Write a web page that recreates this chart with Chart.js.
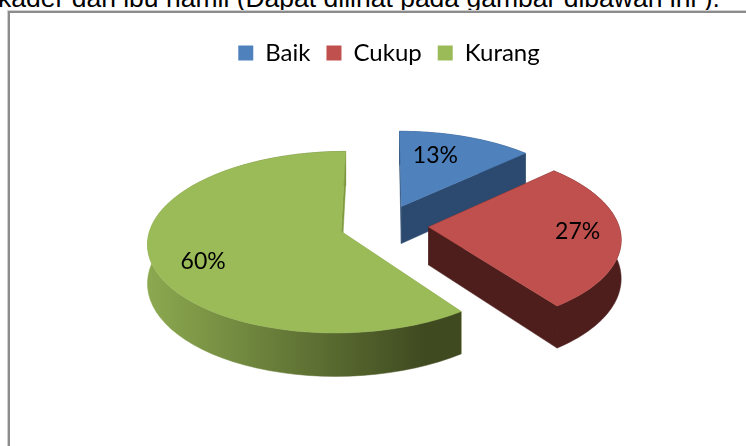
<!DOCTYPE html>
<html>
<head>
<meta charset="utf-8">
<title>Pie</title>
<script src="https://cdn.jsdelivr.net/npm/chart.js@4"></script>
<style>
  html, body { margin: 0; padding: 0; background: #fff; overflow: hidden; }
  #line { position: absolute; left: -2px; top: -17px; font: 26.5px "Liberation Sans", Arial, sans-serif; color: #000; white-space: nowrap; }
  #frame { position: absolute; left: 8px; top: 11px; width: 760px; height: 460px; border-left: 2px solid #8c8c8c; border-top: 2px solid #8c8c8c; box-shadow: -1px -1px 0 #d0d0d0; }
  #wrap { position: absolute; left: 0; top: 0; width: 746px; height: 446px; }
</style>
</head>
<body>
<div id="line">kader dan ibu hamil (Dapat dilihat pada gambar dibawah ini ).</div>
<div id="frame"></div>
<div id="wrap"><canvas id="myChart" width="746" height="446"></canvas></div>
<script>
const categories = ['Baik', 'Cukup', 'Kurang'];
const percentValues = [13, 27, 60];
const sliceColors = ['#4f81bd', '#c0504d', '#9bbb59'];
const wallColors = ['#2c4a6f', '#4d1e1c', '#7f9a3f'];

// camera used to lay the flat pie down, numbers found by trial against the picture
const view = { x: 384, y: 225, a: 190, b: 88, k: 0.117, depth: 38 };
const labelFont = 'Lato, "Open Sans", sans-serif';
const labelNudge = [[-14, 1], [11, -1], [-2, 10]];

function project(arc, px, py, z) {
    const r = arc.outerRadius;
    const p = px / r, q = py / r;
    const w = 1 - view.k * q;
    return { x: view.x + view.a * p / w, y: view.y + view.b * q / w + z * view.depth / w };
}

function outline(arc) {
    const mid = (arc.startAngle + arc.endAngle) / 2;
    const e = arc.options.offset / 4;
    const ax = e * Math.cos(mid), ay = e * Math.sin(mid);
    const rim = [];
    const steps = 60;
    for (let i = 0; i <= steps; i++) {
        const ang = arc.startAngle + (arc.endAngle - arc.startAngle) * i / steps;
        rim.push([ax + arc.outerRadius * Math.cos(ang), ay + arc.outerRadius * Math.sin(ang)]);
    }
    return { apex: [ax, ay], rim };
}

function fillPath(ctx, pts, color) {
    ctx.beginPath();
    pts.forEach((pt, i) => i ? ctx.lineTo(pt.x, pt.y) : ctx.moveTo(pt.x, pt.y));
    ctx.closePath();
    ctx.fillStyle = color;
    ctx.strokeStyle = color;
    ctx.lineWidth = 0.5;
    ctx.fill();
    ctx.stroke();
}

function drawWall(ctx, arc, line, color) {
    const upper = line.map(pt => project(arc, pt[0], pt[1], 0));
    const lower = line.map(pt => project(arc, pt[0], pt[1], 1)).reverse();
    fillPath(ctx, upper.concat(lower), color);
}

const pie3d = {
    id: 'pie3d',
    beforeDatasetDraw(chart, args) {
        const ctx = chart.ctx;
        const arcs = args.meta.data;
        ctx.save();
        arcs.forEach((arc, i) => {
            const shape = outline(arc);
            // back cut face, outer wall, front cut face, top face last
            let wall = wallColors[i];
            if (i === 2) {
                wall = ctx.createLinearGradient(150, 0, 425, 0);
                wall.addColorStop(0, '#8ba84f');
                wall.addColorStop(1, '#3f4a20');
            }
            drawWall(ctx, arc, [shape.apex, shape.rim[0]], wallColors[i]);
            drawWall(ctx, arc, shape.rim, wall);
            drawWall(ctx, arc, [shape.apex, shape.rim[shape.rim.length - 1]], wallColors[i]);
            const top = [shape.apex].concat(shape.rim).map(pt => project(arc, pt[0], pt[1], 0));
            fillPath(ctx, top, sliceColors[i]);
        });
        // percent labels
        ctx.fillStyle = '#000';
        ctx.font = '23px ' + labelFont;
        ctx.textAlign = 'center';
        ctx.textBaseline = 'middle';
        arcs.forEach((arc, i) => {
            const shape = outline(arc);
            const mid = (arc.startAngle + arc.endAngle) / 2;
            const t = 0.72 * arc.outerRadius;
            const pt = project(arc, shape.apex[0] + t * Math.cos(mid), shape.apex[1] + t * Math.sin(mid), 0);
            ctx.fillText(percentValues[i] + '%', pt.x + labelNudge[i][0], pt.y + labelNudge[i][1]);
        });
        ctx.restore();
        return false;
    }
};

const ctx = document.getElementById('myChart').getContext('2d');
const myChart = new Chart(ctx, {
    type: 'pie',
    data: {
        labels: categories,
        datasets: [{
            data: percentValues,
            backgroundColor: sliceColors,
            borderWidth: 0,
            offset: 113
        }]
    },
    options: {
        responsive: false,
        animation: false,
        rotation: 0,
        radius: 120,
        layout: { padding: { left: 32, top: 25 } },
        plugins: {
            tooltip: { enabled: false },
            legend: {
                position: 'top',
                labels: {
                    boxWidth: 15,
                    boxHeight: 15,
                    padding: 16,
                    color: '#000',
                    font: { family: labelFont, size: 24 }
                }
            }
        }
    },
    plugins: [pie3d]
});
</script>
</body>
</html>
